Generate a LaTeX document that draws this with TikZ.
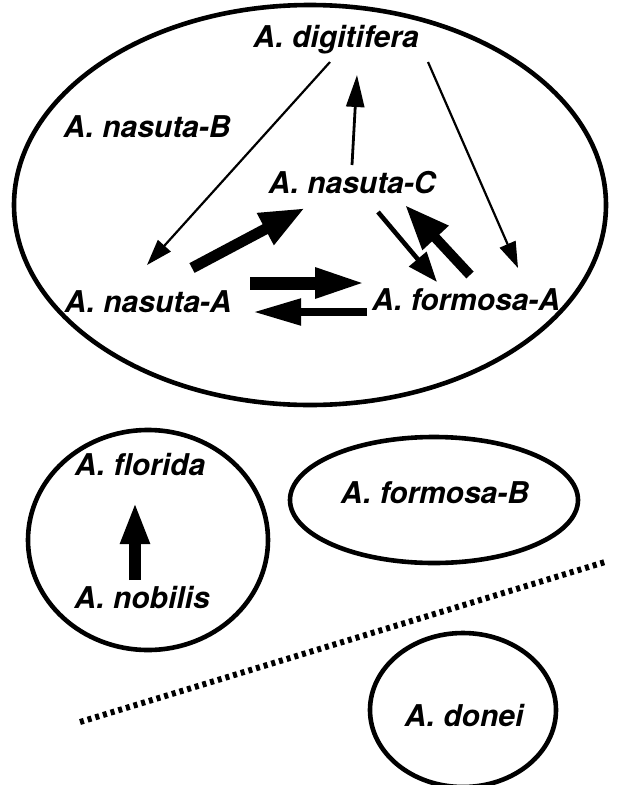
\documentclass[tikz,border=0pt]{standalone}
\usepackage{fontspec}
\setmainfont{TeX Gyre Heros}
\usetikzlibrary{arrows.meta,positioning,calc}

\begin{document}
\begin{tikzpicture}[
  x=1pt, y=-1pt,
  font=\fontsize{30}{32}\selectfont\bfseries\itshape,
  sp/.style={inner sep=1pt},
  rim/.style={draw, line width=4.6pt},
  lightarrow/.style={-{Triangle[length=26pt,width=17pt]}, line width=2.2pt},
  uparrow/.style={-{Triangle[length=32pt,width=18pt]}, line width=2.8pt},
  midarrow/.style={-{Triangle[length=30pt,width=22pt]}, line width=4.6pt},
  heavyarrow/.style={-{Triangle[length=45pt,width=33pt]}, line width=11pt}
]
\useasboundingbox (0,0) rectangle (619,785);

% ==================== outlines ====================
\draw[rim] (310,205) ellipse [x radius=296, y radius=200];
\draw[rim] (148,540) ellipse [x radius=120, y radius=110];
\draw[rim] (434,500) ellipse [x radius=144, y radius=63];
\draw[rim] (463,710) ellipse [x radius=93, y radius=77];

% dotted separator
\draw[line width=6pt, dash pattern=on 4pt off 4pt] (80,722) -- (605,562);

% ==================== species ====================
\node (digitifera) [sp] at (336,40) {A. digitifera};
\node (nasutaB) [sp] at (147,127) {A. nasuta-B};
\node (nasutaC) [sp] at (352,183) {A. nasuta-C};
\node (nasutaA) [sp] at (148,302) {A. nasuta-A};
\node (formosaA) [sp] at (466,300) {A. formosa-A};
\node (florida) [sp] at (140,465) {A. florida};
\node (nobilis) [sp] at (142,598) {A. nobilis};
\node (formosaB) [sp] at (435,493) {A. formosa-B};
\node (donei) [sp] at (464,716) {A. donei};

% ==================== arrows ====================
\draw[lightarrow] ([shift={(-6,22)}]digitifera.center) -- ([shift={(-1,-37)}]nasutaA.center);
\draw[uparrow] ([shift={(0,-18)}]nasutaC.center) -- ([shift={(21,35)}]digitifera.center);
\draw[lightarrow] ([shift={(92,22)}]digitifera.center) -- ([shift={(52,-32)}]formosaA.center);

\draw[heavyarrow] ([shift={(44,-34)}]nasutaA.center) -- ([shift={(-47,25)}]nasutaC.center);
\draw[midarrow] ([shift={(26,29)}]nasutaC.center) -- ([shift={(-29,-18)}]formosaA.center);
\draw[heavyarrow, line width=10pt] ([shift={(4,-25)}]formosaA.center) -- ([shift={(53,22)}]nasutaC.center);

\draw[-{Triangle[length=53pt,width=27pt]}, line width=13pt]
  ([shift={(102,-19)}]nasutaA.center) -- ([shift={(-98,-17)}]formosaA.center);
\draw[-{Triangle[length=48pt,width=25pt]}, line width=8pt]
  ([shift={(-99,12)}]formosaA.center) -- ([shift={(105,10)}]nasutaA.center);

\draw[-{Triangle[length=42pt,width=27pt]}, line width=12pt]
  ([shift={(-7,-18)}]nobilis.center) -- ([shift={(-5,37)}]florida.center);

\end{tikzpicture}
\end{document}
